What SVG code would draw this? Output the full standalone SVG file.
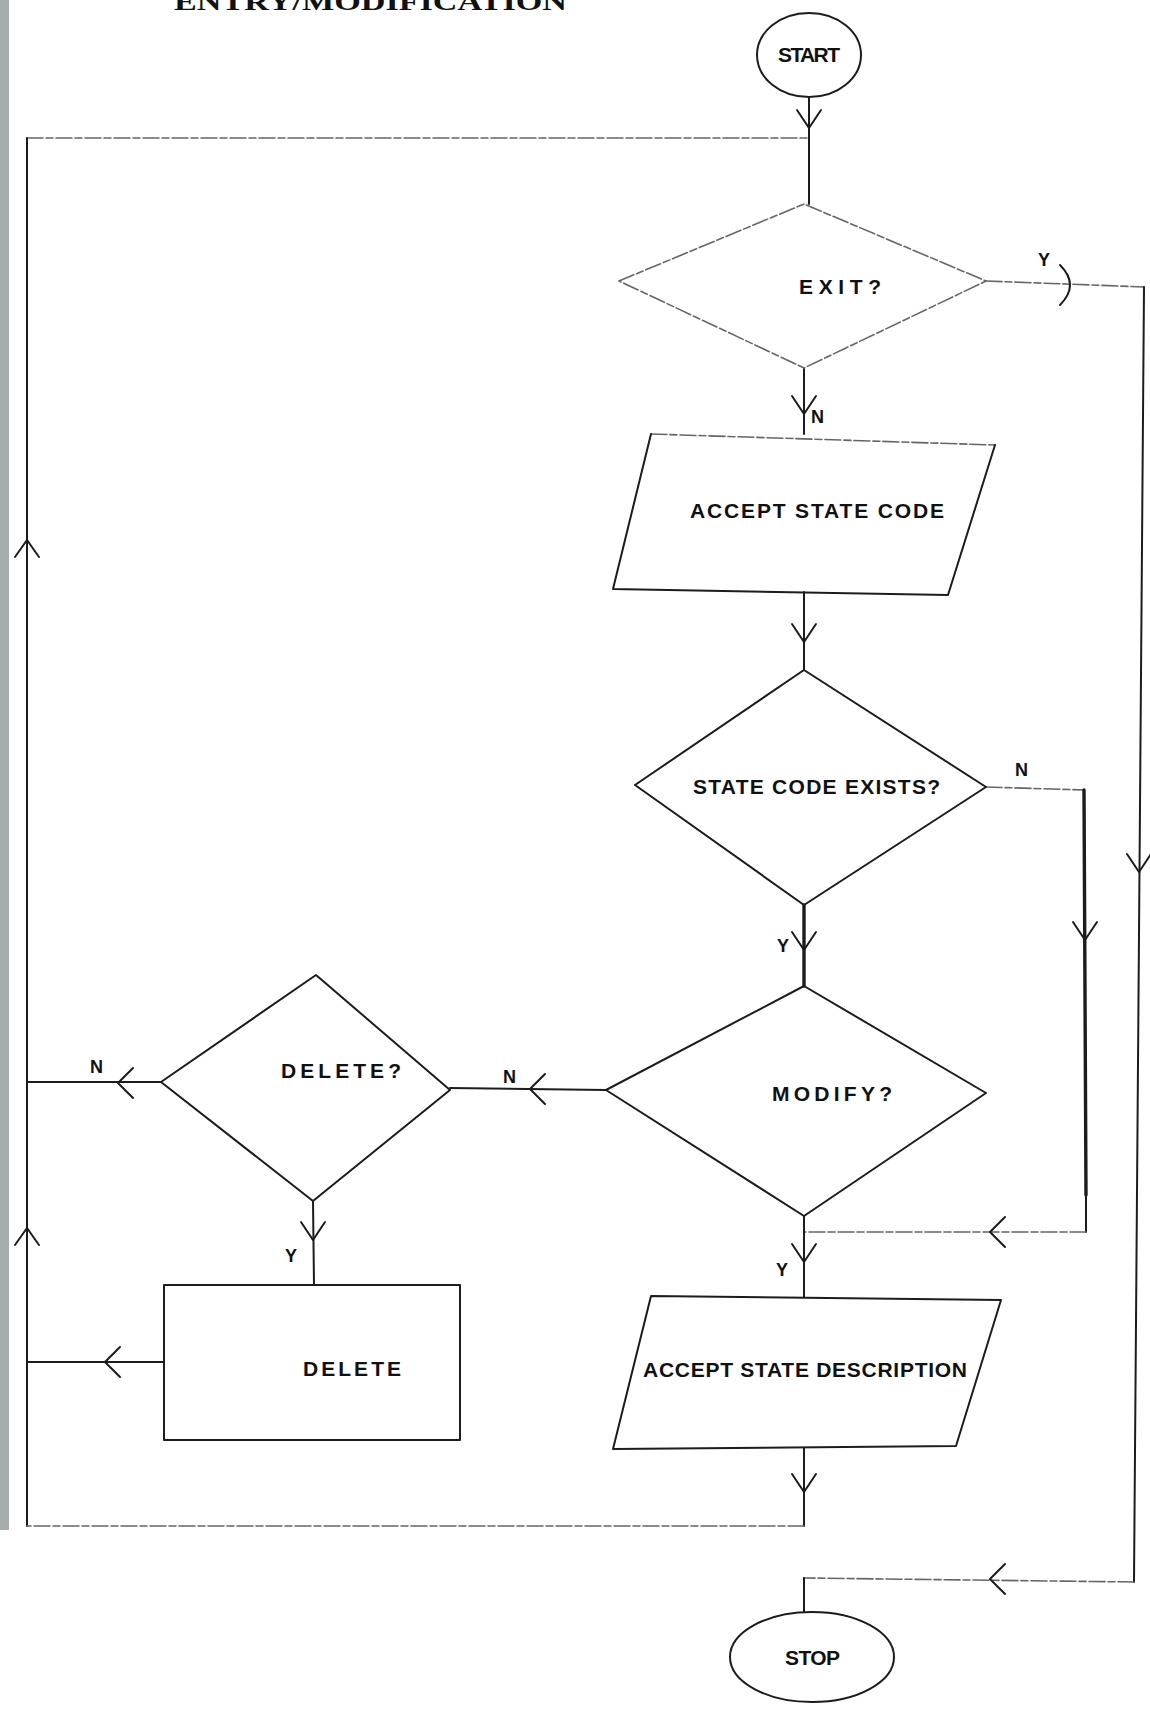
<svg xmlns="http://www.w3.org/2000/svg" xmlns:xlink="http://www.w3.org/1999/xlink" width="1150" height="1710" viewBox="0 0 1150 1710">
  <style>
    .ln{fill:none;stroke:#1c1c1c;stroke-width:2;stroke-linecap:round;stroke-linejoin:round}
    .faint{stroke:#666;stroke-width:1.6;stroke-dasharray:16 3 7 3}
    .heavy{stroke-width:3.4}
    .txt{font-family:"Liberation Sans",Arial,sans-serif;font-weight:bold;fill:#111;font-size:21px}
    .yn{font-size:18px}
    .title{font-family:"Liberation Serif","Times New Roman",serif;font-weight:bold;font-size:26px;fill:#111}
  </style>
  <defs>
    <path id="chev-d" class="ln" d="M-12,-18 L0,0 L12,-18"/>
    <path id="chev-u" class="ln" d="M-12,17 L0,0 L12,17"/>
    <path id="chev-l" class="ln" d="M15,-15 L0,0 L15,15"/>
    <path id="chev-r" class="ln" d="M-14,-20 Q6,0 -14,20"/>
  </defs>

  <rect x="0" y="0" width="9" height="1530" fill="#a7adad"/>
  <rect width="1141" height="1710" x="9" fill="#fff"/>
  <text class="title" x="174" y="10" textLength="393" lengthAdjust="spacingAndGlyphs">ENTRY/MODIFICATION</text>

  <!-- connectors -->
  <g id="connectors">
    <path class="ln" d="M809,97 L809,204"/>
    <use xlink:href="#chev-d" x="809" y="128"/>
    <path class="ln faint" d="M27,138 L809,138"/>
    <path class="ln" d="M27,138 L27,1526"/>
    <use xlink:href="#chev-u" x="27" y="540"/>
    <use xlink:href="#chev-u" x="27" y="1228"/>

    <path class="ln" d="M804,368 L804,434"/>
    <use xlink:href="#chev-d" x="804" y="414"/>
    <text class="txt yn" x="811" y="423">N</text>

    <path class="ln faint" d="M986,281 L1144,287"/>
    <path class="ln" d="M1144,287 L1134,1582"/>
    <path class="ln faint" d="M1134,1582 L804,1578"/>
    <path class="ln" d="M804,1578 L804,1612"/>
    <use xlink:href="#chev-r" x="1074" y="285"/>
    <use xlink:href="#chev-d" x="1139" y="872"/>
    <use xlink:href="#chev-l" x="990" y="1579"/>
    <text class="txt yn" x="1038" y="266">Y</text>

    <path class="ln" d="M804,592 L804,670"/>
    <use xlink:href="#chev-d" x="804" y="642"/>

    <path class="ln faint" d="M986,787 L1084,790"/>
    <path class="ln heavy" d="M1084,790 L1086,1195"/>
    <path class="ln" d="M1086,1195 L1086,1232"/>
    <path class="ln faint" d="M1086,1232 L804,1232"/>
    <use xlink:href="#chev-d" x="1085" y="940"/>
    <use xlink:href="#chev-l" x="990" y="1232"/>
    <text class="txt yn" x="1015" y="776">N</text>

    <path class="ln heavy" d="M804,905 L804,986"/>
    <use xlink:href="#chev-d" x="804" y="950"/>
    <text class="txt yn" x="777" y="952">Y</text>

    <path class="ln" d="M606,1090 L450,1088"/>
    <use xlink:href="#chev-l" x="530" y="1089"/>
    <text class="txt yn" x="503" y="1083">N</text>

    <path class="ln" d="M804,1216 L804,1297"/>
    <use xlink:href="#chev-d" x="804" y="1262"/>
    <text class="txt yn" x="776" y="1276">Y</text>

    <path class="ln" d="M161,1082 L27,1082"/>
    <use xlink:href="#chev-l" x="118" y="1083"/>
    <text class="txt yn" x="90" y="1073">N</text>

    <path class="ln" d="M313,1201 L314,1285"/>
    <use xlink:href="#chev-d" x="313" y="1240"/>
    <text class="txt yn" x="285" y="1262">Y</text>

    <path class="ln" d="M164,1362 L27,1362"/>
    <use xlink:href="#chev-l" x="105" y="1362"/>

    <path class="ln" d="M804,1448 L804,1526"/>
    <path class="ln faint" d="M804,1526 L27,1526"/>
    <use xlink:href="#chev-d" x="804" y="1492"/>
  </g>

  <!-- nodes -->
  <g id="start">
    <ellipse class="ln" cx="809" cy="55" rx="52" ry="42"/>
    <text class="txt" x="778" y="62" font-size="19" textLength="62" lengthAdjust="spacing">START</text>
  </g>
  <g id="exit">
    <polygon class="ln faint" points="619,281 804,204 986,281 804,368"/>
    <text class="txt" x="799" y="294" textLength="82" lengthAdjust="spacing">EXIT?</text>
  </g>
  <g id="accept-code">
    <path class="ln faint" d="M651,434 L995,445"/>
    <path class="ln" d="M995,445 L948,595 L613,589 L651,434"/>
    <text class="txt" x="690" y="518" textLength="254" lengthAdjust="spacing">ACCEPT STATE CODE</text>
  </g>
  <g id="code-exists">
    <polygon class="ln" points="804,670 986,787 804,905 635,785"/>
    <text class="txt" x="693" y="794" textLength="247" lengthAdjust="spacing">STATE CODE EXISTS?</text>
  </g>
  <g id="modify">
    <polygon class="ln" points="804,986 986,1093 804,1216 606,1090"/>
    <text class="txt" x="772" y="1101" textLength="120" lengthAdjust="spacing">MODIFY?</text>
  </g>
  <g id="delete-q">
    <polygon class="ln" points="316,975 450,1090 313,1201 161,1082"/>
    <text class="txt" x="281" y="1078" textLength="120" lengthAdjust="spacing">DELETE?</text>
  </g>
  <g id="delete">
    <rect class="ln" x="164" y="1285" width="296" height="155"/>
    <text class="txt" x="303" y="1376" textLength="98" lengthAdjust="spacing">DELETE</text>
  </g>
  <g id="accept-desc">
    <polygon class="ln" points="651,1296 1001,1300 956,1446 613,1449"/>
    <text class="txt" x="643" y="1377" textLength="324" lengthAdjust="spacing">ACCEPT STATE DESCRIPTION</text>
  </g>
  <g id="stop">
    <ellipse class="ln" cx="812" cy="1657" rx="82" ry="45"/>
    <text class="txt" x="785" y="1665" textLength="55" lengthAdjust="spacing">STOP</text>
  </g>
</svg>
